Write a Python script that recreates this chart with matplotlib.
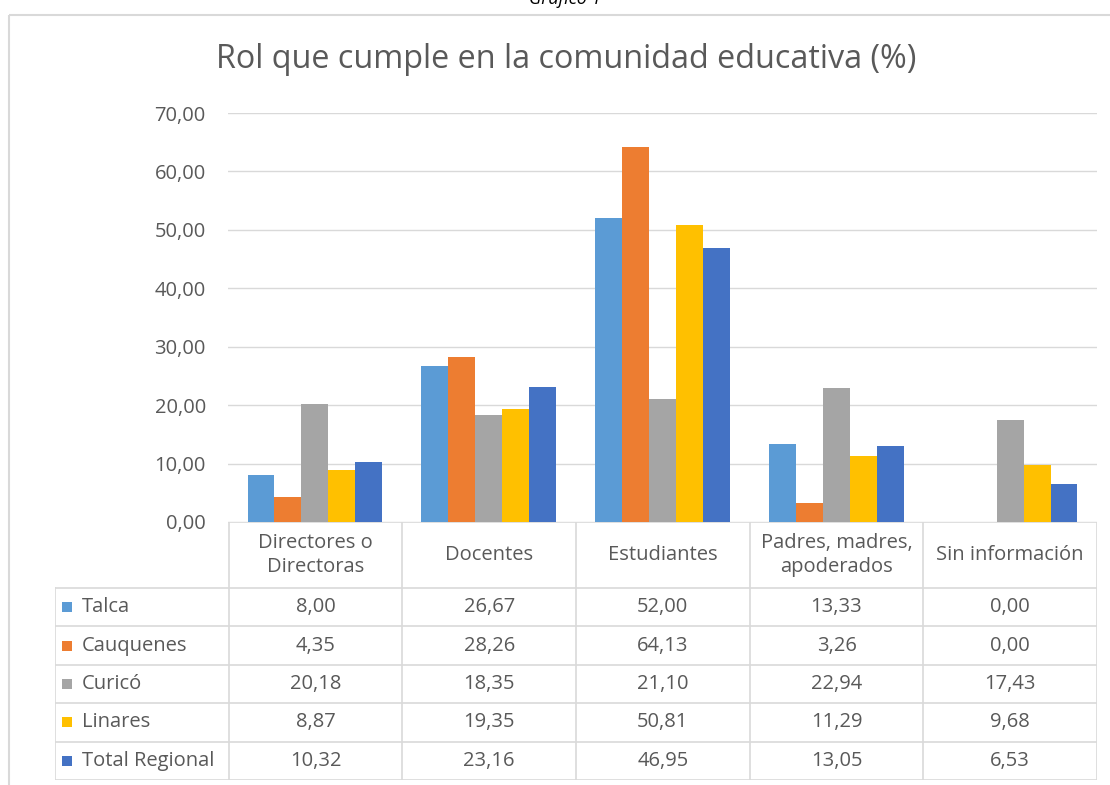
#!/usr/bin/env python3
"""
Bar chart with data table: Rol que cumple en la comunidad educativa (%)
"""
import matplotlib

matplotlib.use("Agg")
import matplotlib.pyplot as plt
from matplotlib.patches import Rectangle
import numpy as np

categories = [
    "Directores o\nDirectoras",
    "Docentes",
    "Estudiantes",
    "Padres, madres,\napoderados",
    "Sin información",
]
series_names = ["Talca", "Cauquenes", "Curicó", "Linares", "Total Regional"]
talca = [8.00, 26.67, 52.00, 13.33, 0.00]
cauquenes = [4.35, 28.26, 64.13, 3.26, 0.00]
curico = [20.18, 18.35, 21.10, 22.94, 17.43]
linares = [8.87, 19.35, 50.81, 11.29, 9.68]
total_regional = [10.32, 23.16, 46.95, 13.05, 6.53]
yticks = [0, 10, 20, 30, 40, 50, 60, 70]

series_values = [talca, cauquenes, curico, linares, total_regional]
colors = ["#5B9BD5", "#ED7D31", "#A5A5A5", "#FFC000", "#4472C4"]
TEXT = "#595959"
GRID = "#D9D9D9"
FONT = "Open Sans"

W, H = 1110, 785


def rect(left, top, right, bottom):
    """Figure-fraction rect from pixel box"""
    return [left / W, 1 - bottom / H, (right - left) / W, (bottom - top) / H]


def fmt(v):
    return f"{v:.2f}".replace(".", ",")


plt.rcParams["font.family"] = [FONT, "DejaVu Sans"]

fig = plt.figure(figsize=(W / 100, H / 100), dpi=100)

# outer frame of the chart object
frame = fig.add_axes([0, 0, 1, 1])
frame.set_xlim(0, W)
frame.set_ylim(H, 0)
frame.axis("off")
frame.add_patch(
    Rectangle((8.5, 14.5), W, H, fill=False, edgecolor=GRID, linewidth=1.5)
)
frame.text(565, 4, "Gráfico 1", ha="center", va="baseline", fontsize=13,
           style="italic", color="black")
frame.text(566, 60, "Rol que cumple en la comunidad educativa (%)",
           ha="center", va="center", fontsize=23.3, color=TEXT)

# bar plot
ax = fig.add_axes(rect(228, 113, 1097, 522))
x = np.arange(len(categories))
n = len(series_names)
bar_w = 0.155
for i, (name, vals) in enumerate(zip(series_names, series_values)):
    offs = (i - (n - 1) / 2) * bar_w
    ax.bar(x + offs, vals, width=bar_w, color=colors[i], label=name, zorder=3)

ax.set_xlim(-0.5, len(categories) - 0.5)
ax.set_ylim(0, 70)
ax.set_yticks(yticks)
ax.set_yticklabels([fmt(v) for v in yticks], fontsize=14.5, color=TEXT)
ax.tick_params(axis="y", length=0, pad=16)
ax.set_xticks([])
ax.grid(True, axis="y", color=GRID, linewidth=1, zorder=0)
for s in ax.spines.values():
    s.set_visible(False)

# data table below the plot
tab = fig.add_axes(rect(55, 522, 1097, 780))
header_h = 66
row_h = (258 - header_h) / len(series_names)
tab.set_xlim(-1.5, len(categories) - 0.5)
tab.set_ylim(258, 0)
tab.axis("off")
lw = 1.2

tab.plot([-0.5, len(categories) - 0.5], [0, 0], color=GRID, lw=lw)
for j in range(len(categories) + 1):
    tab.plot([j - 0.5, j - 0.5], [0, 258], color=GRID, lw=lw)
tab.plot([-1.5, -1.5], [header_h, 258], color=GRID, lw=lw)
for r in range(len(series_names) + 1):
    yy = header_h + r * row_h
    tab.plot([-1.5, len(categories) - 0.5], [yy, yy], color=GRID, lw=lw)

for j, cat in enumerate(categories):
    tab.text(j, header_h / 2, cat, ha="center", va="center", fontsize=14.5,
             color=TEXT, linespacing=1.3)

unit = 173.7  # pixels per column
for r, (name, vals) in enumerate(zip(series_names, series_values)):
    yc = header_h + (r + 0.5) * row_h
    tab.add_patch(Rectangle((-1.5 + 7 / unit, yc - 5), 10 / unit, 10,
                            color=colors[r], lw=0))
    tab.text(-1.5 + 27 / unit, yc, name, ha="left", va="center",
             fontsize=14.5, color=TEXT)
    for j, v in enumerate(vals):
        tab.text(j, yc, fmt(v), ha="center", va="center", fontsize=14.5,
                 color=TEXT)

fig.savefig("out.png", dpi=100)
